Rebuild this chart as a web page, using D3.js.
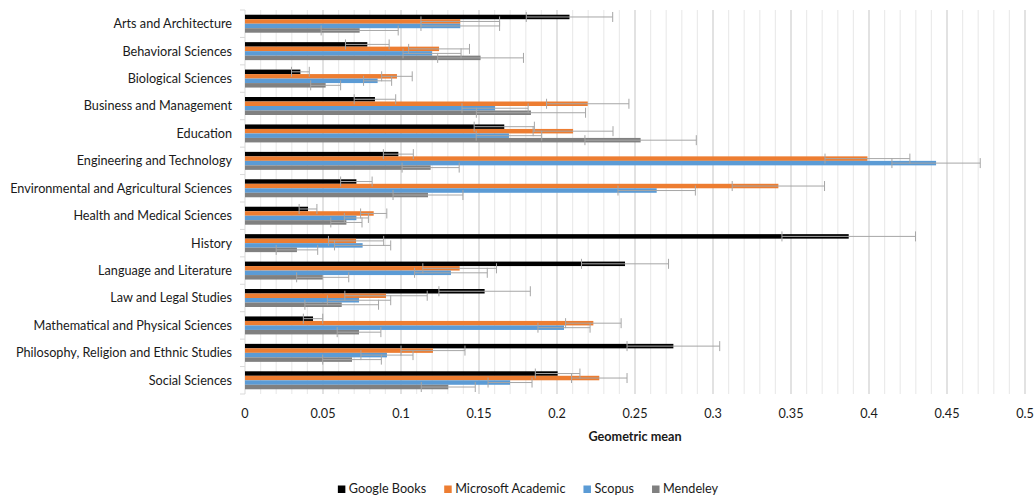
<!DOCTYPE html>
<html><head><meta charset="utf-8">
<script src="https://cdn.jsdelivr.net/npm/d3@7"></script>
<style>
html,body{margin:0;padding:0;background:#fff;}
svg{display:block;font-family:Lato,"Open Sans",sans-serif;}
</style></head>
<body>
<svg id="chart" width="1034" height="496"></svg>
<script>
const categories = ["Arts and Architecture","Behavioral Sciences","Biological Sciences","Business and Management","Education","Engineering and Technology","Environmental and Agricultural Sciences","Health and Medical Sciences","History","Language and Literature","Law and Legal Studies","Mathematical and Physical Sciences","Philosophy, Religion and Ethnic Studies","Social Sciences"];
const seriesNames = ["Google Books","Microsoft Academic","Scopus","Mendeley"];
const googleBooks = [0.208,0.0784,0.0355,0.0833,0.1662,0.0983,0.0714,0.0404,0.387,0.2436,0.1536,0.0436,0.2746,0.2004];
const googleBooksErr = [0.0277,0.014,0.0057,0.0133,0.0193,0.0096,0.0101,0.0057,0.0428,0.0279,0.0293,0.0062,0.0297,0.0143];
const microsoftAcademic = [0.138,0.1244,0.0974,0.2197,0.2103,0.399,0.3419,0.0825,0.0712,0.1376,0.0904,0.2233,0.1205,0.2271];
const microsoftAcademicErr = [0.0252,0.0195,0.0098,0.0264,0.0256,0.0272,0.0296,0.0084,0.0177,0.0236,0.0264,0.0178,0.0205,0.0178];
const scopus = [0.138,0.1199,0.085,0.1603,0.1692,0.443,0.2639,0.0714,0.0754,0.132,0.0731,0.2045,0.091,0.1699];
const scopusErr = [0.0252,0.0186,0.009,0.0212,0.021,0.0283,0.0248,0.0077,0.018,0.0233,0.0203,0.0167,0.0167,0.0141];
const mendeley = [0.0735,0.151,0.0517,0.1833,0.2536,0.119,0.1173,0.065,0.0333,0.0498,0.062,0.0731,0.0686,0.1303];
const mendeleyErr = [0.0247,0.0275,0.0096,0.035,0.0357,0.0183,0.0224,0.01,0.0133,0.0167,0.0236,0.014,0.0188,0.0173];
const xTicks = [0,0.05,0.1,0.15,0.2,0.25,0.3,0.35,0.4,0.45,0.5];
const xTickLabels = ["0","0.05","0.1","0.15","0.2","0.25","0.3","0.35","0.4","0.45","0.5"];
const xTitle = "Geometric mean";

const colors = ["#000000","#ED7D31","#5B9BD5","#808080"];
const values = [googleBooks, microsoftAcademic, scopus, mendeley];
const errors = [googleBooksErr, microsoftAcademicErr, scopusErr, mendeleyErr];

(function(){
const svg = d3.select("#chart");
const pL = 245, pR = 1025, pT = 10, pB = 394;

const x = d3.scaleLinear().domain([0,0.5]).range([pL,pR]);
const y = d3.scaleBand().domain(categories).range([pT,pB]).paddingInner(0).paddingOuter(0);
const ys = d3.scaleBand().domain(d3.range(4)).range([0,y.bandwidth()]).paddingInner(0).paddingOuter(1.05);

// minor gridlines
const minor = d3.range(1,50).filter(k => k % 5 !== 0).map(k => k/100);
svg.append("g").selectAll("line").data(minor).join("line")
  .attr("x1",d=>x(d)).attr("x2",d=>x(d)).attr("y1",pT).attr("y2",pB)
  .attr("stroke","#ebebeb").attr("stroke-width",1.2);
// major gridlines
svg.append("g").selectAll("line").data(xTicks.slice(1)).join("line")
  .attr("x1",d=>x(d)).attr("x2",d=>x(d)).attr("y1",pT).attr("y2",pB)
  .attr("stroke","#d9d9d9").attr("stroke-width",1.5);

// left axis line and category ticks
svg.append("line").attr("x1",pL).attr("x2",pL).attr("y1",pT).attr("y2",pB)
  .attr("stroke","#d9d9d9").attr("stroke-width",1);
const bounds = categories.map(c=>y(c)).concat([pB]);
svg.append("g").selectAll("line").data(bounds).join("line")
  .attr("x1",pL-5).attr("x2",pL).attr("y1",d=>d).attr("y2",d=>d)
  .attr("stroke","#d9d9d9");

// bars
const gBars = svg.append("g");
values.forEach((vals,si)=>{
  gBars.append("g").selectAll("rect").data(categories).join("rect")
    .attr("x",x(0))
    .attr("y",(c)=>y(c)+ys(si))
    .attr("width",(c,i)=>x(vals[i])-x(0))
    .attr("height",ys.bandwidth())
    .attr("fill",colors[si]);
});

// error bars
const gErr = svg.append("g").attr("stroke","#a6a6a6").attr("stroke-width",1);
values.forEach((vals,si)=>{
  categories.forEach((c,i)=>{
    const cy = y(c)+ys(si)+ys.bandwidth()/2;
    const lo = x(vals[i]-errors[si][i]), hi = x(vals[i]+errors[si][i]);
    gErr.append("line").attr("x1",lo).attr("x2",hi).attr("y1",cy).attr("y2",cy);
    gErr.append("line").attr("x1",lo).attr("x2",lo).attr("y1",cy-5).attr("y2",cy+5);
    gErr.append("line").attr("x1",hi).attr("x2",hi).attr("y1",cy-5).attr("y2",cy+5);
  });
});

// category labels with fitted font size
const catG = svg.append("g").attr("fill","#1a1a1a");
const catTexts = catG.selectAll("text").data(categories).join("text")
  .attr("x",232).attr("y",c=>y(c)+y.bandwidth()/2)
  .attr("dy","0.35em").attr("text-anchor","end")
  .style("font-size","12px").text(d=>d);
const longest = catTexts.filter(d=>d==="Environmental and Agricultural Sciences").node().getComputedTextLength();
const fs = 12*222/longest;
catTexts.style("font-size",fs+"px");

// x tick labels
svg.append("g").attr("fill","#1a1a1a").selectAll("text").data(xTicks).join("text")
  .attr("x",d=>x(d)).attr("y",414).attr("dy","0.35em").attr("text-anchor","middle")
  .style("font-size",fs+"px").text((d,i)=>xTickLabels[i]);

// x title
svg.append("text").attr("x",(pL+pR)/2).attr("y",437).attr("dy","0.35em")
  .attr("text-anchor","middle").attr("fill","#1a1a1a")
  .style("font-size",fs+"px").style("font-weight","bold").text(xTitle);

// legend
const lg = svg.append("g");
let cx = 0;
seriesNames.forEach((name,i)=>{
  const g = lg.append("g");
  g.append("rect").attr("x",cx).attr("y",485.5).attr("width",7.5).attr("height",7.5).attr("fill",colors[i]);
  const t = g.append("text").attr("x",cx+11).attr("y",489).attr("dy","0.35em")
    .attr("fill","#1a1a1a").style("font-size",fs+"px").text(name);
  const w = t.node().getComputedTextLength();
  cx += 11 + w + 18;
});
const totalW = cx - 18;
lg.attr("transform",`translate(${528 - totalW/2},0)`);
})();
</script>
</body></html>
